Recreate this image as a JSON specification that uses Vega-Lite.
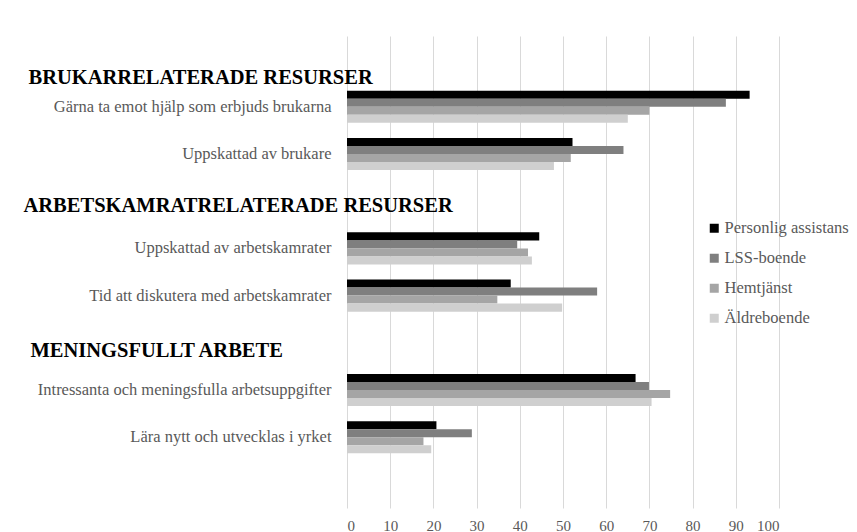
{
  "$schema": "https://vega.github.io/schema/vega-lite/v6.json",
  "width": 432,
  "height": 472,
  "autosize": {"type": "none"},
  "padding": {"left": 347, "top": 36, "right": 78, "bottom": 24},
  "background": "white",
  "config": {"view": {"stroke": null}, "font": "Liberation Serif, Times New Roman, serif"},
  "data": {
    "values": [
      {"category": "Gärna ta emot hjälp som erbjuds brukarna", "series": "Personlig assistans", "value": 93.2},
      {"category": "Gärna ta emot hjälp som erbjuds brukarna", "series": "LSS-boende", "value": 87.7},
      {"category": "Gärna ta emot hjälp som erbjuds brukarna", "series": "Hemtjänst", "value": 70.0},
      {"category": "Gärna ta emot hjälp som erbjuds brukarna", "series": "Äldreboende", "value": 65.0},
      {"category": "Uppskattad av brukare", "series": "Personlig assistans", "value": 52.2},
      {"category": "Uppskattad av brukare", "series": "LSS-boende", "value": 64.0},
      {"category": "Uppskattad av brukare", "series": "Hemtjänst", "value": 51.8},
      {"category": "Uppskattad av brukare", "series": "Äldreboende", "value": 47.9},
      {"category": "Uppskattad av arbetskamrater", "series": "Personlig assistans", "value": 44.5},
      {"category": "Uppskattad av arbetskamrater", "series": "LSS-boende", "value": 39.4},
      {"category": "Uppskattad av arbetskamrater", "series": "Hemtjänst", "value": 41.9},
      {"category": "Uppskattad av arbetskamrater", "series": "Äldreboende", "value": 42.8},
      {"category": "Tid att diskutera med arbetskamrater", "series": "Personlig assistans", "value": 37.9},
      {"category": "Tid att diskutera med arbetskamrater", "series": "LSS-boende", "value": 57.9},
      {"category": "Tid att diskutera med arbetskamrater", "series": "Hemtjänst", "value": 34.8},
      {"category": "Tid att diskutera med arbetskamrater", "series": "Äldreboende", "value": 49.8},
      {"category": "Intressanta och meningsfulla arbetsuppgifter", "series": "Personlig assistans", "value": 66.8},
      {"category": "Intressanta och meningsfulla arbetsuppgifter", "series": "LSS-boende", "value": 69.9},
      {"category": "Intressanta och meningsfulla arbetsuppgifter", "series": "Hemtjänst", "value": 74.8},
      {"category": "Intressanta och meningsfulla arbetsuppgifter", "series": "Äldreboende", "value": 70.5},
      {"category": "Lära nytt och utvecklas i yrket", "series": "Personlig assistans", "value": 20.7},
      {"category": "Lära nytt och utvecklas i yrket", "series": "LSS-boende", "value": 28.9},
      {"category": "Lära nytt och utvecklas i yrket", "series": "Hemtjänst", "value": 17.7},
      {"category": "Lära nytt och utvecklas i yrket", "series": "Äldreboende", "value": 19.5}
    ]
  },
  "mark": {"type": "bar"},
  "encoding": {
    "y": {
      "field": "category",
      "type": "nominal",
      "scale": {
        "domain": [
          "BRUKARRELATERADE RESURSER",
          "Gärna ta emot hjälp som erbjuds brukarna",
          "Uppskattad av brukare",
          "ARBETSKAMRATRELATERADE RESURSER",
          "Uppskattad av arbetskamrater",
          "Tid att diskutera med arbetskamrater",
          "MENINGSFULLT ARBETE",
          "Intressanta och meningsfulla arbetsuppgifter",
          "Lära nytt och utvecklas i yrket",
          " "
        ],
        "paddingInner": 0.32,
        "paddingOuter": 0.16
      },
      "axis": {
        "title": null,
        "domain": false,
        "ticks": false,
        "tickSize": 0,
        "grid": false,
        "labelLimit": 700,
        "labelOverlap": false,
        "labelBound": false,
        "labelFont": "Liberation Serif, Times New Roman, serif",
        "labelFontSize": {"condition": {"test": "indexof(['BRUKARRELATERADE RESURSER','ARBETSKAMRATRELATERADE RESURSER','MENINGSFULLT ARBETE'], datum.value) >= 0", "value": 20.5}, "value": 16.5},
        "labelFontWeight": {"condition": {"test": "indexof(['BRUKARRELATERADE RESURSER','ARBETSKAMRATRELATERADE RESURSER','MENINGSFULLT ARBETE'], datum.value) >= 0", "value": "bold"}, "value": "normal"},
        "labelColor": {"condition": {"test": "indexof(['BRUKARRELATERADE RESURSER','ARBETSKAMRATRELATERADE RESURSER','MENINGSFULLT ARBETE'], datum.value) >= 0", "value": "#000000"}, "value": "#595959"},
        "labelAlign": {"condition": {"test": "indexof(['BRUKARRELATERADE RESURSER','ARBETSKAMRATRELATERADE RESURSER','MENINGSFULLT ARBETE'], datum.value) >= 0", "value": "left"}, "value": "right"},
        "labelPadding": {"condition": [
          {"test": "datum.value === 'BRUKARRELATERADE RESURSER'", "value": 319},
          {"test": "datum.value === 'ARBETSKAMRATRELATERADE RESURSER'", "value": 324},
          {"test": "datum.value === 'MENINGSFULLT ARBETE'", "value": 317}
        ], "value": 16},
        "labelOffset": {"condition": [
          {"test": "datum.value === 'BRUKARRELATERADE RESURSER'", "value": 18},
          {"test": "datum.value === 'ARBETSKAMRATRELATERADE RESURSER'", "value": 5},
          {"test": "datum.value === 'MENINGSFULLT ARBETE'", "value": 8}
        ], "value": 0}
      }
    },
    "yOffset": {
      "field": "series",
      "type": "nominal",
      "sort": ["Personlig assistans", "LSS-boende", "Hemtjänst", "Äldreboende"],
      "scale": {"paddingInner": 0, "paddingOuter": 0}
    },
    "x": {
      "field": "value",
      "type": "quantitative",
      "scale": {"domain": [0, 100], "nice": false},
      "axis": {
        "title": null,
        "orient": "bottom",
        "values": [0, 10, 20, 30, 40, 50, 60, 70, 80, 90, 100],
        "grid": true,
        "gridColor": "#d9d9d9",
        "gridWidth": 1,
        "domain": false,
        "ticks": false,
        "tickSize": 0,
        "labelFont": "Liberation Serif, Times New Roman, serif",
        "labelFontSize": 15,
        "labelColor": "#595959",
        "labelPadding": 10
      }
    },
    "color": {
      "field": "series",
      "type": "nominal",
      "scale": {
        "domain": ["Personlig assistans", "LSS-boende", "Hemtjänst", "Äldreboende"],
        "range": ["#000000", "#7f7f7f", "#a5a5a5", "#cfcfcf"]
      },
      "legend": {
        "title": null,
        "orient": "none",
        "legendX": 359,
        "legendY": 184,
        "padding": 0,
        "symbolType": "square",
        "symbolSize": 81,
        "symbolStrokeWidth": 0,
        "labelFont": "Liberation Serif, Times New Roman, serif",
        "labelFontSize": 16.5,
        "labelColor": "#595959",
        "labelOffset": 2,
        "rowPadding": 13
      }
    }
  }
}
